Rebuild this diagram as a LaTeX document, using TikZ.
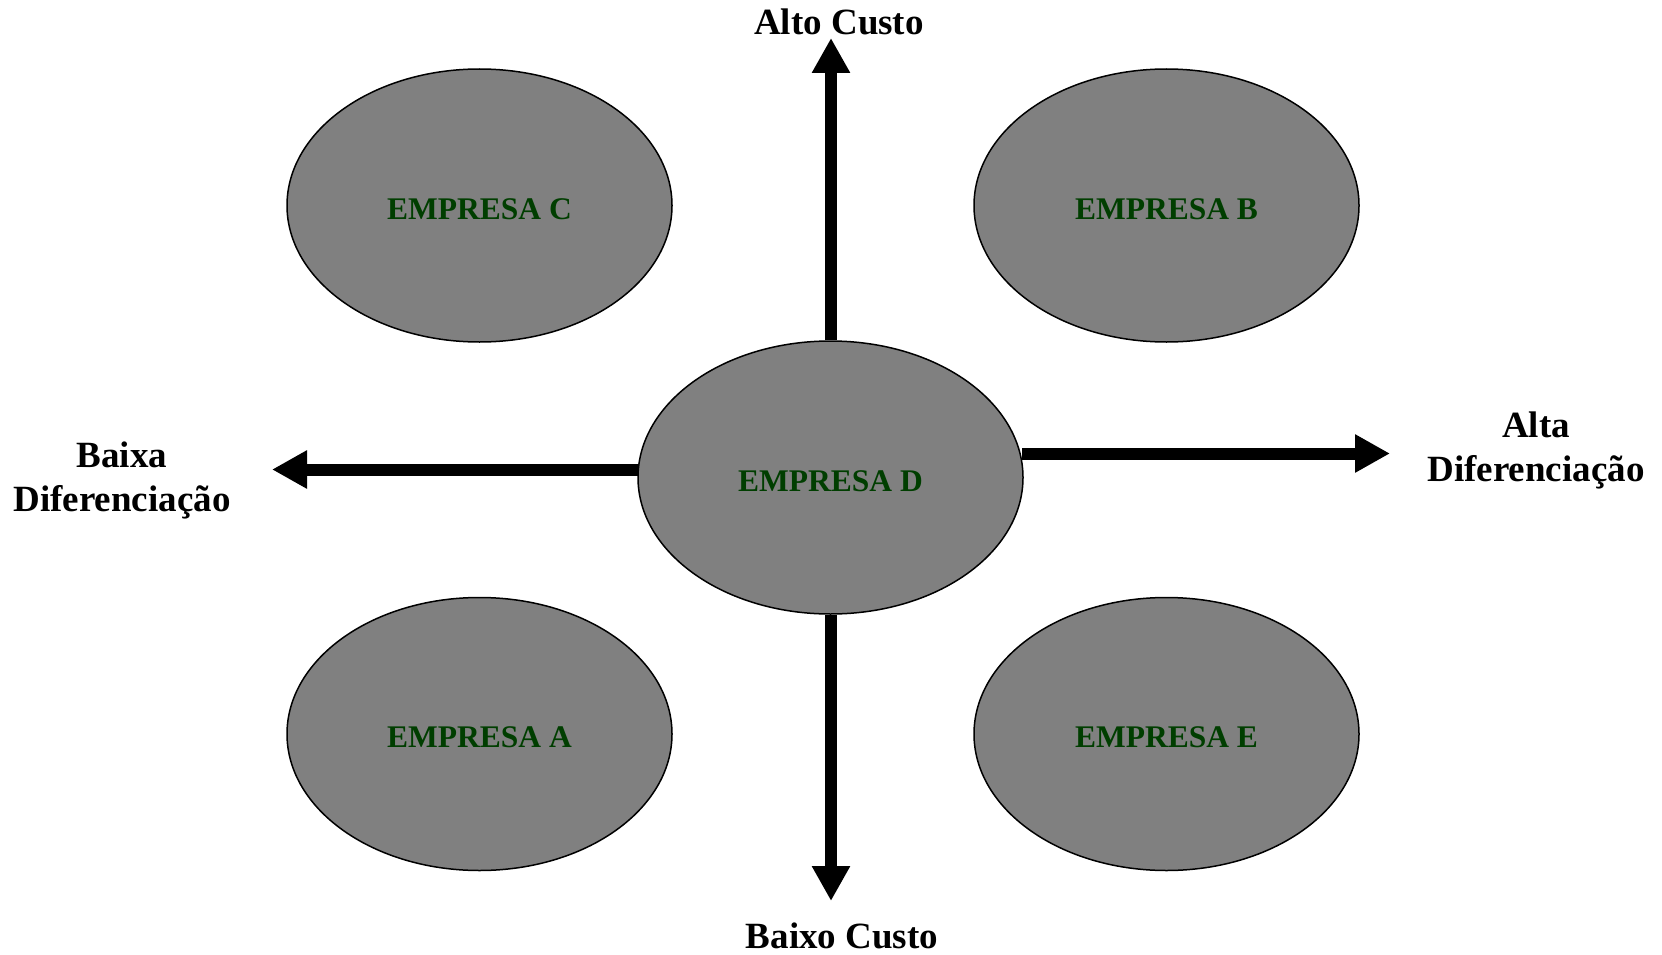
\documentclass[tikz,border=0pt]{standalone}
\usepackage{fontspec}
\setmainfont{Liberation Serif}
\usetikzlibrary{arrows.meta,shapes.geometric}
\definecolor{empgreen}{RGB}{0,62,0}
\definecolor{empgray}{RGB}{128,128,128}
\tikzset{
  empresa/.style={ellipse, draw=black, line width=1.5pt, fill=empgray,
    minimum width=385pt, minimum height=273pt, inner sep=0pt,
    text height=27pt, text depth=0pt,
    font=\bfseries\fontsize{31.5}{36}\selectfont, text=empgreen},
  axislabel/.style={font=\bfseries\fontsize{37}{43.5}\selectfont, align=center, inner sep=0pt},
  axisarrow/.style={line width=12pt, -{Triangle[width=36pt,length=35pt]}}
}
\begin{document}
\begin{tikzpicture}[x=1pt,y=-1pt]
\useasboundingbox (0,0) rectangle (1662,955);
\node[empresa] (C) at (479.5,205.5) {EMPRESA C};
\node[empresa] (B) at (1166.5,205.5) {EMPRESA B};
\node[empresa] (D) at (830.5,477.5) {EMPRESA D};
\node[empresa] (A) at (479.5,734) {EMPRESA A};
\node[empresa] (E) at (1166.5,734) {EMPRESA E};
\coordinate (up) at (831,38);
\coordinate (down) at (831,901);
\coordinate (left) at (272,469.5);
\coordinate (right) at (1390,453.5);
\draw[axisarrow] (D.north -| up) -- (up);
\draw[axisarrow] (D.south -| down) -- (down);
\draw[axisarrow] (D.west |- left) ++(1,0) -- (left);
\draw[axisarrow] (1022,453.5) coordinate (rs) -- (right);
\node[axislabel, anchor=base] (alto) at (839,35) {Alto Custo};
\node[axislabel, anchor=base] (baixo) at (842,948) {Baixo Custo};
\node[axislabel, anchor=base] (baixa) at (122,511) {Baixa\\Diferenciação};
\node[axislabel, anchor=base] (alta) at (1536,481) {Alta\\Diferenciação};
\end{tikzpicture}
\end{document}
